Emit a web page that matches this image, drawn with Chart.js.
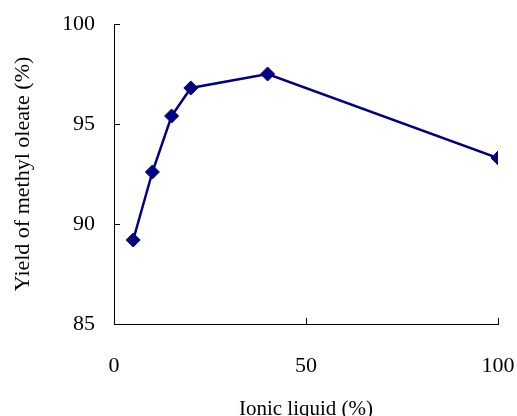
<!DOCTYPE html>
<html>
<head>
<meta charset="utf-8">
<script src="https://cdn.jsdelivr.net/npm/chart.js@4"></script>
<style>
html,body{margin:0;padding:0;background:#fff;overflow:hidden;}
#wrap{width:517px;height:430px;position:relative;}
</style>
</head>
<body>
<div id="wrap"><canvas id="c" width="517" height="430"></canvas></div>
<script>
const ionicLiquid = [5, 10, 15, 20, 40, 100];
const yieldValues = [89.2, 92.6, 95.4, 96.8, 97.5, 93.3];
const xTicks = [0, 50, 100];
const yTicks = [85, 90, 95, 100];

const serif = "'Liberation Serif', 'Times New Roman', serif";

const inwardTicks = {
  id: 'inwardTicks',
  afterDraw(chart) {
    const ctx = chart.ctx;
    const xs = chart.scales.x, ys = chart.scales.y;
    ctx.save();
    ctx.strokeStyle = '#000';
    ctx.lineWidth = 1;
    ctx.beginPath();
    xTicks.forEach(v => {
      const px = Math.round(xs.getPixelForValue(v)) + 0.5;
      ctx.moveTo(px, ys.bottom);
      ctx.lineTo(px, ys.bottom - 6);
    });
    yTicks.forEach(v => {
      const py = Math.round(ys.getPixelForValue(v)) + 0.5;
      ctx.moveTo(xs.left, py);
      ctx.lineTo(xs.left + 6, py);
    });
    ctx.stroke();
    ctx.restore();
  }
};

new Chart(document.getElementById('c'), {
  type: 'scatter',
  data: {
    datasets: [{
      data: ionicLiquid.map((x, i) => ({x: x, y: yieldValues[i]})),
      showLine: true,
      borderColor: '#000080',
      backgroundColor: '#000080',
      borderWidth: 2.5,
      pointStyle: 'rectRot',
      pointRadius: 7,
      pointBorderWidth: 1,
      pointBorderColor: '#000080',
      pointBackgroundColor: '#000080',
      tension: 0
    }]
  },
  options: {
    responsive: false,
    animation: false,
    events: [],
    layout: {padding: {top: 24, right: 19, left: 0, bottom: 0}},
    plugins: {legend: {display: false}, tooltip: {enabled: false}},
    scales: {
      x: {
        type: 'linear',
        min: 0, max: 100,
        afterBuildTicks(s) { s.ticks = xTicks.map(v => ({value: v})); },
        afterFit(s) { s.height = 106; s.paddingLeft = 0; s.paddingRight = 0; },
        grid: {display: false, drawTicks: false},
        border: {display: true, color: '#000', width: 1},
        ticks: {color: '#000', font: {family: serif, size: 22}, padding: 29, maxRotation: 0},
        title: {display: true, text: 'Ionic liquid (%)', color: '#000', font: {family: serif, size: 21}, padding: {top: 0, bottom: 8}}
      },
      y: {
        type: 'linear',
        min: 85, max: 100,
        afterBuildTicks(s) { s.ticks = yTicks.map(v => ({value: v})); },
        afterFit(s) { s.width = 114; s.paddingTop = 0; s.paddingBottom = 0; },
        grid: {display: false, drawTicks: false},
        border: {display: true, color: '#000', width: 1},
        ticks: {color: '#000', font: {family: serif, size: 22}, padding: 19},
        title: {display: true, text: 'Yield of methyl oleate (%)', color: '#000', font: {family: serif, size: 22}, padding: {top: 10, bottom: 0}}
      }
    }
  },
  plugins: [inwardTicks]
});
</script>
</body>
</html>
